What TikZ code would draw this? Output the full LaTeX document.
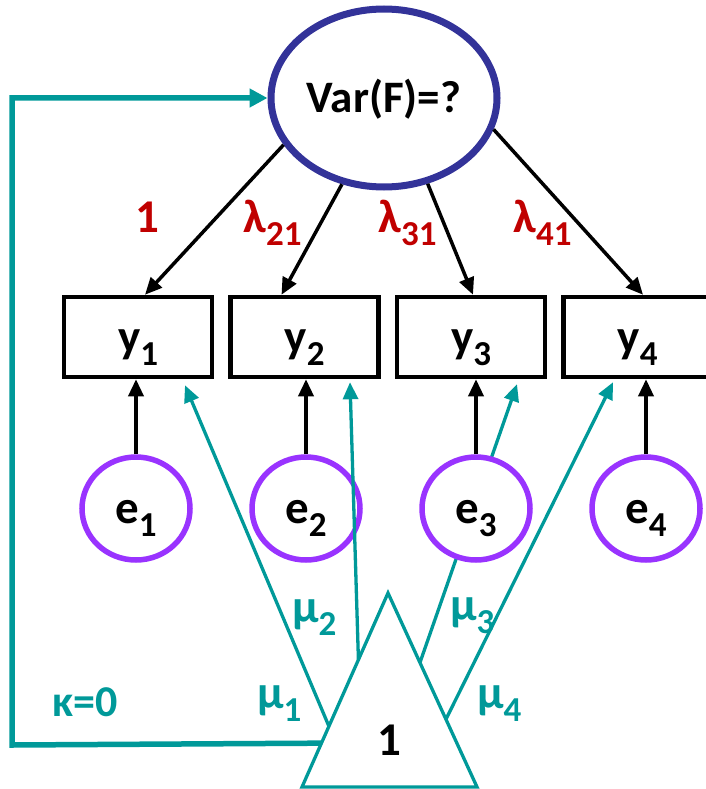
\documentclass[tikz,border=0pt]{standalone}
\usepackage{fontspec}
\setmainfont{Carlito}
\usetikzlibrary{arrows.meta, calc, shapes.geometric}
\definecolor{Teal}{HTML}{009999}
\definecolor{Navy}{HTML}{333399}
\definecolor{Violet}{HTML}{9933FF}
\definecolor{DarkRed}{HTML}{C00000}
\newcommand{\lab}[2]{#1\raisebox{-13pt}{\fontsize{35}{35}\selectfont #2}}

\begin{document}
\begin{tikzpicture}[x=1pt, y=-1pt,
  font=\fontsize{47}{47}\selectfont\bfseries,
  obs/.style={draw, line width=4.5pt, minimum width=148pt, minimum height=80pt,
    inner sep=0pt, text height=40pt, text depth=10pt},
  err/.style={draw=Violet, fill=white, line width=5.5pt, ellipse, minimum width=108pt,
    minimum height=103pt, inner sep=0pt, text height=40pt, text depth=10pt},
  blk/.style={line width=3.5pt, -{Triangle[length=17pt, width=15pt]}},
  mean/.style={Teal, line width=3.3pt, -{Triangle[length=17pt, width=15pt]}},
  prm/.style={DarkRed, inner sep=0pt, anchor=base west},
  mu/.style={Teal, inner sep=0pt, anchor=base west}]
  \useasboundingbox (0,0) rectangle (706,789);
  % factor
  \node[ellipse, draw=Navy, line width=7pt, minimum width=226pt, minimum height=178pt,
    inner sep=0pt, text height=40pt, text depth=10pt,
    font=\fontsize{45}{45}\selectfont\bfseries] (F) at (384,98) {Var(F)=?};
  % constant
  \coordinate (tA) at (388,593);
  \coordinate (tL) at (302,787);
  \coordinate (tR) at (477,787);
  \coordinate (m1) at ($(tA)!0.687!(tL)$);
  \coordinate (m2) at ($(tA)!0.344!(tL)$);
  \coordinate (m3) at ($(tA)!0.359!(tR)$);
  \coordinate (m4) at ($(tA)!0.651!(tR)$);
  \coordinate (k) at ($(tA)!0.774!(tL)$);
  % indicators
  \foreach \i/\x in {1/138, 2/304.5, 3/471, 4/637.5}
    \node[obs] (y\i) at (\x,337) {\lab{y}{\i}};
  \draw[mean] (m3) -- ([xshift=46pt, yshift=-5pt]y3.south);
  % residuals
  \foreach \i/\ex in {1/136, 2/306, 3/476, 4/646} {
    \node[err] (e\i) at (\ex,508.5) {\lab{e}{\i}};
    \draw[blk] (e\i.north) -- (e\i.north |- y\i.south);
  }
  \draw[blk] (F.205) -- ([xshift=7pt]y1.north);
  \draw[blk] (F.244) -- ([xshift=-23pt]y2.north);
  \draw[blk] (F.297) -- ([xshift=2pt]y3.north);
  \draw[blk] (F.344) -- ([xshift=5.5pt]y4.north);
  \node[prm] (l1) at (135,232) {1};
  \node[prm] (l2) at (243,232) {\lab{λ}{21}};
  \node[prm] (l3) at (378,232) {\lab{λ}{31}};
  \node[prm] (l4) at (513,232) {\lab{λ}{41}};
  % means
  \draw[Teal, line width=3.3pt] (tA) -- (tL) -- (tR) -- cycle;
  \node[inner sep=0pt, anchor=base] (one) at (389,755) {1};
  \draw[mean] (m1) -- ([xshift=47pt, yshift=-6pt]y1.south);
  \draw[mean] (m2) -- ([xshift=45.5pt, yshift=-3pt]y2.south);
  \draw[mean] (m4) -- ([xshift=-24.5pt, yshift=-3pt]y4.south);
  \node[mu] (u1) at (257,708) {\lab{μ}{1}};
  \node[mu] (u2) at (292,622) {\lab{μ}{2}};
  \node[mu] (u3) at (450,620) {\lab{μ}{3}};
  \node[mu] (u4) at (477,708) {\lab{μ}{4}};
  % factor mean
  \coordinate (corner) at (12,745);
  \draw[Teal, line width=5.5pt, -{Triangle[length=18pt, width=18pt]}] (k) -- (corner) |- (F.west);
  \node[mu, font=\fontsize{44}{44}\selectfont\bfseries] (kappa) at (52,716) {κ=0};
\end{tikzpicture}
\end{document}
